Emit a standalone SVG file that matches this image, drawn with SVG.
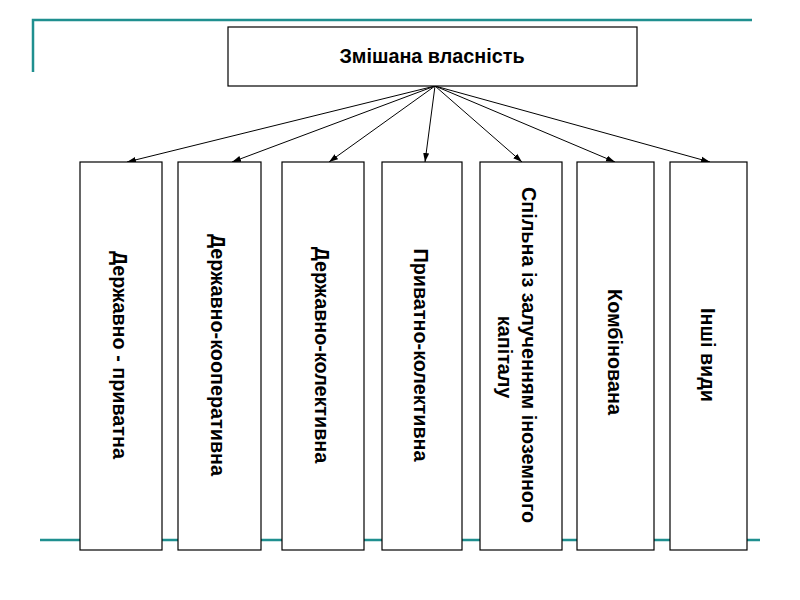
<svg xmlns="http://www.w3.org/2000/svg" width="800" height="600" viewBox="0 0 800 600">
<style>
.box{fill:#fff;stroke:#000;stroke-width:1.2}
.lbl{font-family:"Liberation Sans",Arial,sans-serif;font-weight:bold;font-size:19.8px;fill:#000;text-anchor:middle}
.conn{stroke:#000;stroke-width:1;fill:none;marker-end:url(#ah)}
.deco{stroke:#1f8f8f;stroke-width:2.5;fill:none}
</style>
<defs>
<marker id="ah" markerWidth="10" markerHeight="8" refX="9" refY="4" orient="auto" markerUnits="userSpaceOnUse">
<path d="M0,1 L9,4 L0,7 Z" fill="#000"/>
</marker>
</defs>
<rect width="800" height="600" fill="#fff"/>
<g id="decor">
<path class="deco" d="M33,72 V20 H752"/>
<path class="deco" d="M40,540 H760"/>
</g>
<g id="connectors">
<line class="conn" x1="435" y1="86" x2="127" y2="162"/>
<line class="conn" x1="435" y1="86" x2="232" y2="162"/>
<line class="conn" x1="435" y1="86" x2="329" y2="162"/>
<line class="conn" x1="435" y1="86" x2="425" y2="162"/>
<line class="conn" x1="435" y1="86" x2="522" y2="162"/>
<line class="conn" x1="435" y1="86" x2="615" y2="162"/>
<line class="conn" x1="435" y1="86" x2="710" y2="162"/>
</g>
<g id="root">
<rect class="box" x="228" y="27" width="409" height="59"/>
<text class="lbl" x="432" y="63">Змішана власність</text>
</g>
<g id="n1">
<rect class="box" x="80" y="162" width="82" height="388"/>
<text class="lbl" transform="translate(113,355) rotate(90)">Державно - приватна</text>
</g>
<g id="n2">
<rect class="box" x="178" y="162" width="83" height="388"/>
<text class="lbl" transform="translate(211,355) rotate(90)">Державно-кооперативна</text>
</g>
<g id="n3">
<rect class="box" x="282" y="162" width="82" height="388"/>
<text class="lbl" transform="translate(315,355) rotate(90)">Державно-колективна</text>
</g>
<g id="n4">
<rect class="box" x="382" y="162" width="80" height="388"/>
<text class="lbl" transform="translate(414,355) rotate(90)">Приватно-колективна</text>
</g>
<g id="n5">
<rect class="box" x="480" y="162" width="82" height="388"/>
<text class="lbl" transform="translate(522,355) rotate(90)">Спільна із залученням іноземного</text>
<text class="lbl" transform="translate(498,357) rotate(90)">капіталу</text>
</g>
<g id="n6">
<rect class="box" x="577" y="162" width="77" height="388"/>
<text class="lbl" transform="translate(608,352) rotate(90)">Комбінована</text>
</g>
<g id="n7">
<rect class="box" x="670" y="162" width="77" height="388"/>
<text class="lbl" transform="translate(701,355) rotate(90)">Інші види</text>
</g>
</svg>
